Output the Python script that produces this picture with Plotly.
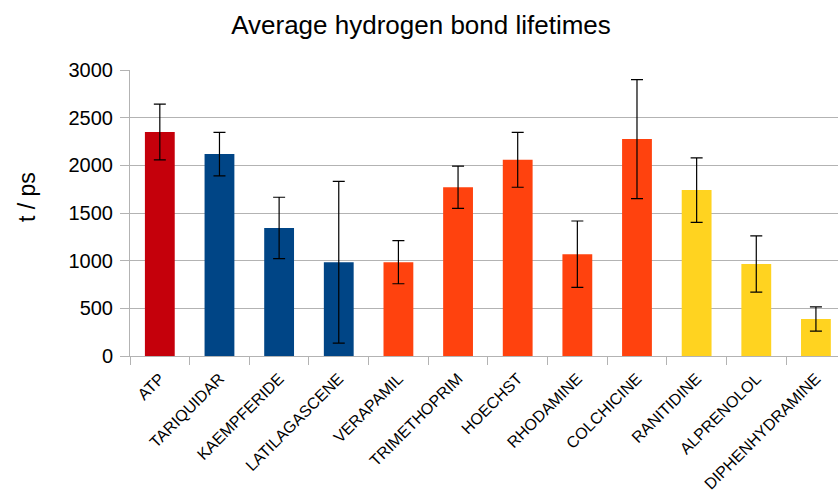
import plotly.graph_objects as go

categories = ["ATP", "TARIQUIDAR", "KAEMPFERIDE", "LATILAGASCENE", "VERAPAMIL",
              "TRIMETHOPRIM", "HOECHST", "RHODAMINE", "COLCHICINE", "RANITIDINE",
              "ALPRENOLOL", "DIPHENHYDRAMINE"]
values = [2350, 2118, 1343, 984, 984, 1770, 2058, 1068, 2275, 1740, 966, 388]
errors = [292, 228, 322, 848, 226, 222, 288, 348, 625, 338, 295, 127]
bar_colors = ["#c5000b", "#004586", "#004586", "#004586", "#ff420e", "#ff420e",
              "#ff420e", "#ff420e", "#ff420e", "#ffd320", "#ffd320", "#ffd320"]
y_ticks = [0, 500, 1000, 1500, 2000, 2500, 3000]

fig = go.Figure(go.Bar(
    x=categories, y=values,
    marker=dict(color=bar_colors, line=dict(width=0)),
    width=0.5,
    error_y=dict(type="data", array=errors, visible=True, color="#000000",
                 thickness=1.2, width=6),
))

fig.update_layout(
    width=838, height=495,
    paper_bgcolor="white", plot_bgcolor="white",
    margin=dict(l=130, r=0, t=70, b=139),
    font=dict(family="Liberation Sans, Arial, sans-serif", color="#000000"),
    title=dict(text="Average hydrogen bond lifetimes",
               x=(421 - 130) / 708, xref="paper", xanchor="center",
               y=1 - 25 / 495, yref="container", yanchor="middle",
               font=dict(size=26, color="#000000")),
    showlegend=False,
    bargap=0.5,
    annotations=[dict(text="t / ps", textangle=-90, showarrow=False,
                      xref="paper", yref="paper",
                      x=(27 - 130) / 708, y=(356 - 197) / 286,
                      xanchor="center", yanchor="middle",
                      font=dict(size=23, color="#000000"))],
)

fig.update_xaxes(
    range=[-0.5, 11.37], tickangle=-45, tickfont=dict(size=16),
    ticks="outside", tickson="boundaries", ticklen=8, tickcolor="#b3b3b3",
    ticklabelstandoff=6,
    showline=True, linecolor="#b3b3b3", linewidth=1, showgrid=False,
)
fig.update_yaxes(
    range=[0, 3000], tickvals=y_ticks, tickfont=dict(size=20),
    ticks="outside", ticklen=9, tickcolor="#b3b3b3",
    ticklabelstandoff=3,
    showgrid=True, gridcolor="#b3b3b3", gridwidth=1,
    showline=True, linecolor="#b3b3b3", linewidth=1,
    zeroline=False,
)

fig.write_html("out.html")
